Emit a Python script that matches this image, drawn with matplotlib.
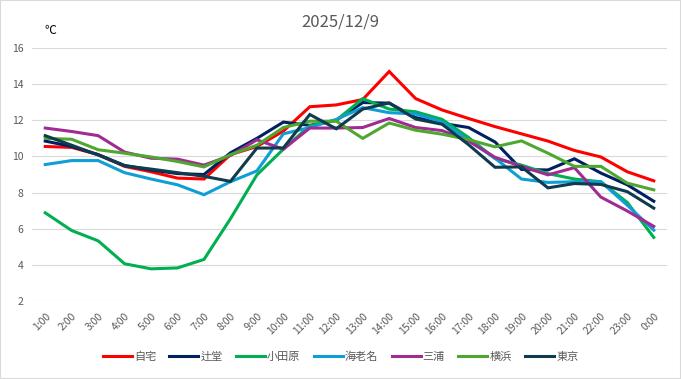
import matplotlib.pyplot as plt
import matplotlib.patches as patches
import numpy as np

plt.rcParams['font.family'] = ['Noto Sans CJK JP', 'DejaVu Sans']

# 時刻
horas = ["1:00", "2:00", "3:00", "4:00", "5:00", "6:00", "7:00", "8:00", "9:00", "10:00",
         "11:00", "12:00", "13:00", "14:00", "15:00", "16:00", "17:00", "18:00", "19:00",
         "20:00", "21:00", "22:00", "23:00", "0:00"]

jitaku = [10.55, 10.5, 10.1, 9.45, 9.15, 8.8, 8.75, 10.1, 10.55, 11.4, 12.75, 12.85,
          13.15, 14.7, 13.2, 12.57, 12.1, 11.65, 11.25, 10.85, 10.33, 9.97, 9.15, 8.65]
tsujido = [10.85, 10.55, 10.1, 9.5, 9.25, 9.05, 9.0, 10.2, 11.0, 11.9, 11.72, 12.0,
           12.98, 12.95, 12.15, 11.83, 11.6, 10.8, 9.28, 9.25, 9.87, 9.08, 8.43, 7.52]
odawara = [6.88, 5.9, 5.33, 4.06, 3.78, 3.83, 4.3, 6.55, 8.98, 10.4, 11.7, 12.0,
           13.2, 12.62, 12.47, 12.05, 11.05, 9.88, 9.52, 9.05, 8.75, 8.6, 7.45, 5.52]
ebina = [9.55, 9.77, 9.77, 9.1, 8.75, 8.43, 7.88, 8.6, 9.2, 11.25, 11.6, 12.05,
         12.7, 12.42, 12.35, 11.9, 10.9, 9.9, 8.75, 8.56, 8.6, 8.6, 7.3, 5.92]
miura = [11.57, 11.38, 11.15, 10.24, 9.9, 9.85, 9.52, 10.05, 10.92, 10.4, 11.57, 11.57,
         11.6, 12.1, 11.6, 11.43, 10.85, 9.95, 9.45, 8.98, 9.38, 7.75, 6.98, 6.13]
yokohama = [11.0, 10.95, 10.37, 10.18, 9.97, 9.72, 9.42, 10.1, 10.62, 11.6, 11.95, 11.95,
            11.0, 11.85, 11.45, 11.23, 10.93, 10.53, 10.86, 10.18, 9.45, 9.45, 8.52, 8.15]
tokyo = [11.15, 10.62, 10.08, 9.48, 9.3, 9.1, 8.9, 8.62, 10.46, 10.47, 12.32, 11.53,
         12.62, 12.96, 12.07, 11.78, 10.65, 9.4, 9.42, 8.26, 8.5, 8.45, 8.05, 7.14]

nomes = ["自宅", "辻堂", "小田原", "海老名", "三浦", "横浜", "東京"]
series = [jitaku, tsujido, odawara, ebina, miura, yokohama, tokyo]
cores = ["#FF0000", "#002060", "#00B050", "#0F9ED5", "#A02B93", "#4EA72E", "#103A4E"]

fig = plt.figure(figsize=(6.81, 3.79), dpi=100)
ax = fig.add_axes([32 / 681, 78 / 379, 635 / 681, 253 / 379])

x = np.arange(len(horas))
for nome, valores, cor in zip(nomes, series, cores):
    ax.plot(x, valores, color=cor, lw=2.2, label=nome, solid_joinstyle='miter')

ax.set_xlim(-0.5, len(horas) - 0.5)
ax.set_ylim(2, 16)
ax.set_yticks(np.arange(2, 17, 2))
ax.set_xticks(x)
ax.set_xticklabels(horas, rotation=45, ha='right', va='top', rotation_mode='anchor')
ax.grid(axis='y', color='#D9D9D9', lw=0.8)
ax.set_axisbelow(True)
for s in ax.spines.values():
    s.set_visible(False)
ax.tick_params(axis='both', length=0, colors='#595959', labelsize=7.5)
ax.tick_params(axis='y', pad=6)
ax.tick_params(axis='x', pad=7)

fig.text(0.5, 1 - 22 / 379, "2025/12/9", ha='center', va='center', fontsize=12, color='#595959')
fig.text(50 / 681, 1 - 30 / 379, "℃", ha='center', va='center', fontsize=8.5, color='black')

fig.legend(loc='center', bbox_to_anchor=(0.5, 22 / 379), ncol=7, frameon=False,
           fontsize=8, handlelength=2.6, handletextpad=0.2, columnspacing=1.2,
           labelcolor='#595959')

fig.patches.append(patches.Rectangle((0, 0), 1, 1, transform=fig.transFigure, fill=False,
                                     edgecolor='#D9D9D9', lw=1.5))

plt.savefig("out.png", dpi=100)
